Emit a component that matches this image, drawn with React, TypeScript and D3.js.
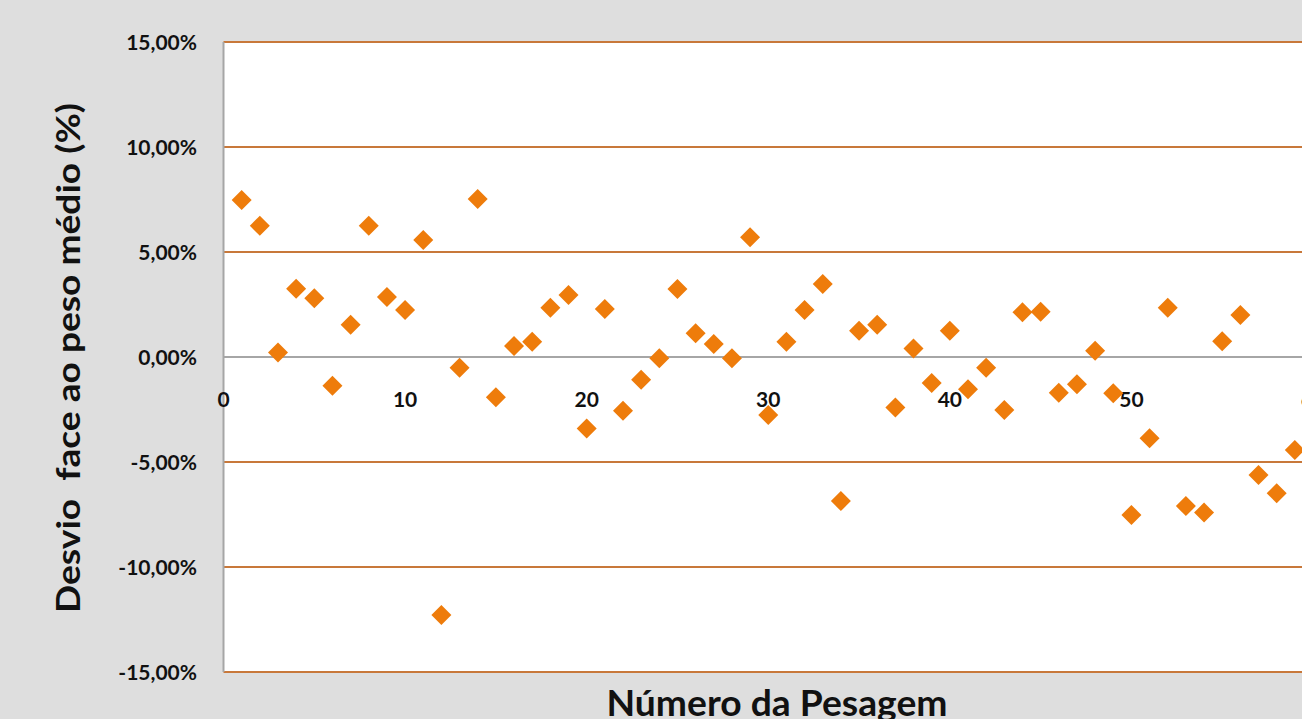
import React from "react";
import * as d3 from "d3";

// deviation from mean weight (%) per weighing
const pesagens: number[] = [
    1, 2, 3, 4, 5, 6, 7, 8, 9, 10,
    11, 12, 13, 14, 15, 16, 17, 18, 19, 20,
    21, 22, 23, 24, 25, 26, 27, 28, 29, 30,
    31, 32, 33, 34, 35, 36, 37, 38, 39, 40,
    41, 42, 43, 44, 45, 46, 47, 48, 49, 50,
    51, 52, 53, 54, 55, 56, 57, 58, 59
];
const desvios: number[] = [
    7.48, 6.25, 0.22, 3.25, 2.80, -1.37, 1.54, 6.25, 2.86, 2.24,
    5.57, -12.29, -0.51, 7.52, -1.92, 0.52, 0.73, 2.35, 2.95, -3.40,
    2.29, -2.56, -1.08, -0.06, 3.24, 1.13, 0.62, -0.06, 5.70, -2.76,
    0.73, 2.24, 3.48, -6.86, 1.25, 1.54, -2.40, 0.40, -1.24, 1.25,
    -1.54, -0.51, -2.52, 2.13, 2.16, -1.70, -1.30, 0.30, -1.73, -7.52,
    -3.87, 2.35, -7.10, -7.41, 0.75, 2.00, -5.62, -6.49, -4.43
];
const yTicks: number[] = [15, 10, 5, 0, -5, -10, -15];
const xTicks: number[] = [0, 10, 20, 30, 40, 50, 60];

const W = 1302;
const H = 719;
const FONT = "Lato, 'Open Sans', sans-serif";

export default function App(): JSX.Element {
    const x = d3.scaleLinear().domain([0, 60]).range([223.5, 1313]);
    const y = d3.scaleLinear().domain([-15, 15]).range([672, 42]);
    const diamond = d3.symbol(d3.symbolSquare, 200)() || "";
    const fmt = (v: number) => v.toFixed(2).replace(".", ",") + "%";

    return (
        <svg width={W} height={H} style={{position: "absolute", left: 0, top: 0, display: "block"}}>
            <rect x={0} y={0} width={W} height={H} fill="#dedede"/>
            <rect x={x(0)} y={y(15)} width={W - x(0)} height={y(-15) - y(15)} fill="#ffffff"/>

            {/* gridlines */}
            {yTicks.filter(t => t !== 0).map(t => (
                <line key={t} x1={x(0)} x2={W} y1={y(t)} y2={y(t)} stroke="#c8783a" strokeWidth={2}/>
            ))}
            <line x1={x(0)} x2={W} y1={y(0)} y2={y(0)} stroke="#a6a6a6" strokeWidth={2}/>
            <line x1={x(0)} x2={x(0)} y1={y(15)} y2={y(-15)} stroke="#a6a6a6" strokeWidth={2}/>

            {/* y tick labels */}
            {yTicks.map(t => (
                <text key={t} x={197} y={y(t) + 8} textAnchor="end" fontFamily={FONT}
                      fontWeight="bold" fontSize={21} fill="#111">{fmt(t)}</text>
            ))}

            {/* x tick labels on the zero line */}
            {xTicks.map(t => (
                <text key={t} x={x(t)} y={y(0) + 50} textAnchor="middle" fontFamily={FONT}
                      fontWeight="bold" fontSize={21} fill="#111">{t}</text>
            ))}

            {/* points */}
            {pesagens.map((p, i) => (
                <path key={p} d={diamond}
                      transform={`translate(${x(p)},${y(desvios[i])}) rotate(45)`}
                      fill="#ee7c0b"/>
            ))}

            {/* axis titles */}
            <text transform={`translate(80,${358}) rotate(-90)`} textAnchor="middle" fontFamily={FONT}
                  fontWeight="bold" fontSize={32} fill="#111" textLength={510}
                  lengthAdjust="spacingAndGlyphs" style={{whiteSpace: "pre"}}>{"Desvio  face ao peso médio (%)"}</text>
            <text x={777} y={716} textAnchor="middle" fontFamily={FONT} fontWeight="bold"
                  fontSize={36} fill="#111" textLength={341}
                  lengthAdjust="spacingAndGlyphs">Número da Pesagem</text>
        </svg>
    );
}
